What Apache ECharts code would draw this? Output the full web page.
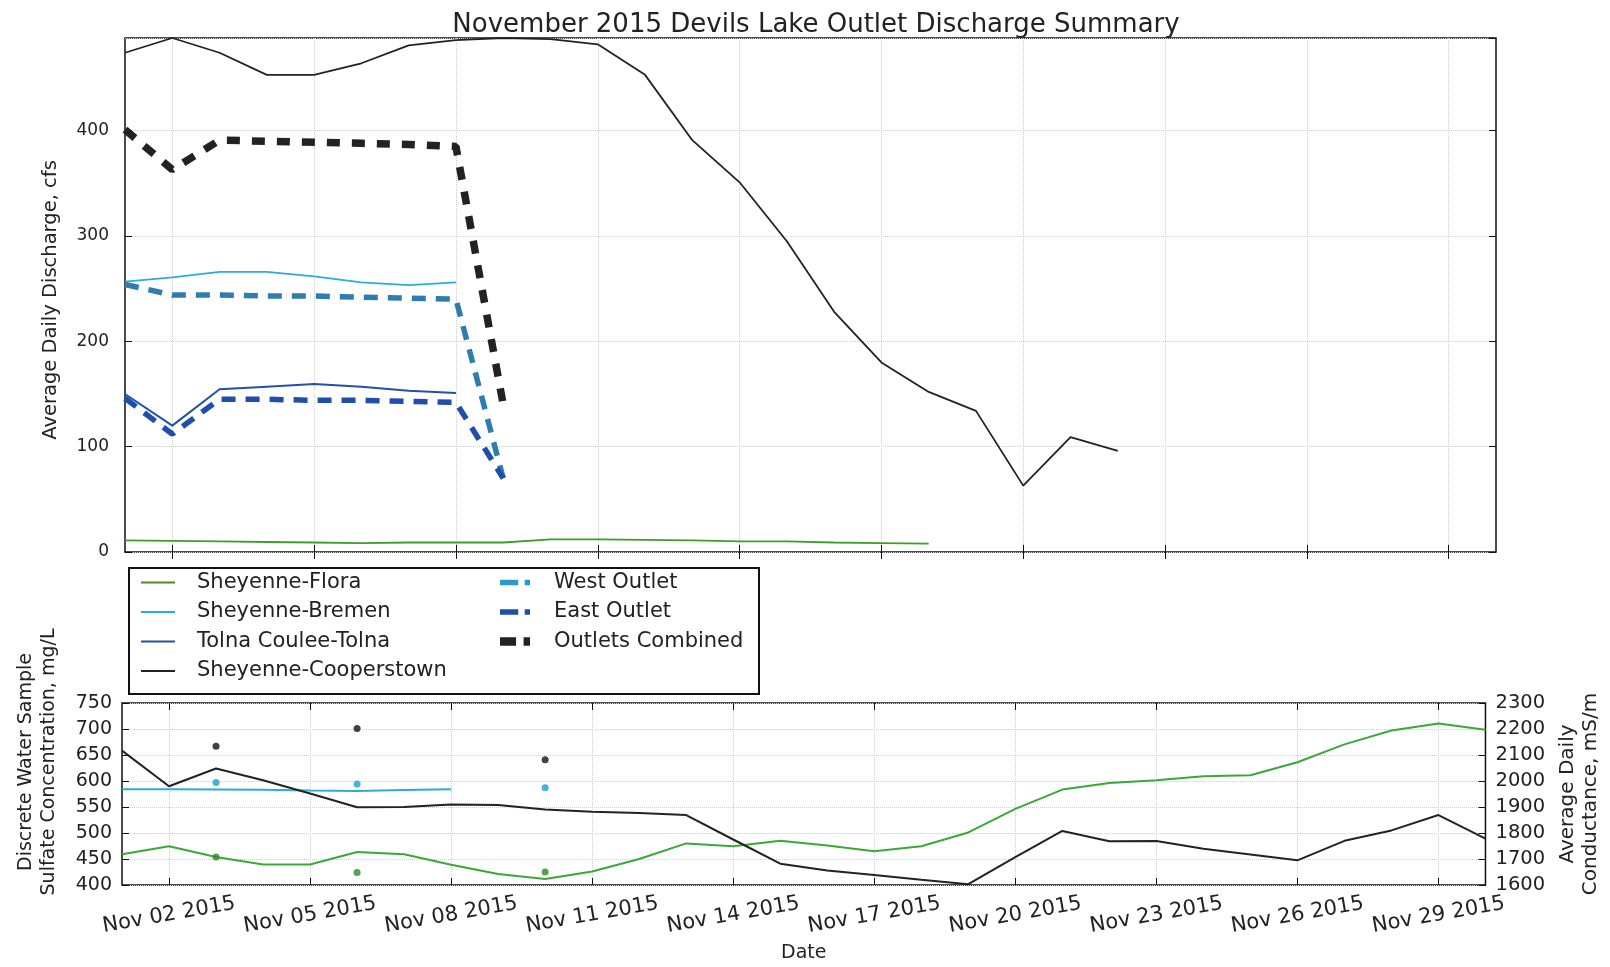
<!DOCTYPE html>
<html>
<head>
<meta charset="utf-8">
<script src="https://cdn.jsdelivr.net/npm/echarts@6/dist/echarts.min.js"></script>
<style>html,body{margin:0;padding:0;background:#fff;}#c{width:1610px;height:967px;}</style>
</head>
<body>
<div id="c"></div>
<script>
var dates = ['Nov 01 2015','Nov 02 2015','Nov 03 2015','Nov 04 2015','Nov 05 2015','Nov 06 2015','Nov 07 2015','Nov 08 2015','Nov 09 2015','Nov 10 2015',
  'Nov 11 2015','Nov 12 2015','Nov 13 2015','Nov 14 2015','Nov 15 2015','Nov 16 2015','Nov 17 2015','Nov 18 2015','Nov 19 2015','Nov 20 2015',
  'Nov 21 2015','Nov 22 2015','Nov 23 2015','Nov 24 2015','Nov 25 2015','Nov 26 2015','Nov 27 2015','Nov 28 2015','Nov 29 2015','Nov 30 2015'];
var tickLabels = ['Nov 02 2015','Nov 05 2015','Nov 08 2015','Nov 11 2015','Nov 14 2015','Nov 17 2015','Nov 20 2015','Nov 23 2015','Nov 26 2015','Nov 29 2015'];
var dischargeTicks = [0, 100, 200, 300, 400];

// Average daily discharge, cfs (top panel)
var floraQ = [11,10.5,10,9.5,9,8.5,9,9,9,12,12,11.5,11,10,10,9,8.5,8,null,null,null,null,null,null,null,null,null,null,null,null];
var bremenQ = [256.6,260.7,266,266,261.6,256,253.4,256,null,null,null,null,null,null,null,null,null,null,null,null,null,null,null,null,null,null,null,null,null,null];
var tolnaQ = [150,120,154.5,157,159.5,157,153,151,null,null,null,null,null,null,null,null,null,null,null,null,null,null,null,null,null,null,null,null,null,null];
var coopQ = [474,488,474,453,453,464,481,486,488,487,482,453,391,351,295,228,180,152,134,63,109,96,null,null,null,null,null,null,null,null];
var westQ = [254,244,244,243,243,242,241,240,70,null,null,null,null,null,null,null,null,null,null,null,null,null,null,null,null,null,null,null,null,null];
var eastQ = [146,112,145,145,144,144,143,142,70,null,null,null,null,null,null,null,null,null,null,null,null,null,null,null,null,null,null,null,null,null];
var combinedQ = [401,363,391,390,389,388,387,385,140,null,null,null,null,null,null,null,null,null,null,null,null,null,null,null,null,null,null,null,null,null];

// Average daily conductance, mS/m (bottom panel, right axis)
var floraC = [1718,1749,1708,1679,1679,1727,1718,1678,1642,1623,1652,1700,1760,1749,1770,1752,1730,1749,1802,1893,1967,1992,2003,2018,2022,2072,2141,2194,2221,2197];
var bremenC = [1968,1968,1967,1966,1963,1962,1965,1968,null,null,null,null,null,null,null,null,null,null,null,null,null,null,null,null,null,null,null,null,null,null];
var coopC = [2117,1980,2048,2003,1952,1899,1900,1910,1908,1890,1882,1877,1869,1775,1682,1656,1638,1620,1603,1707,1808,1768,1769,1739,1717,1695,1770,1810,1869,1778];

// Discrete sulfate samples, mg/L (bottom panel, left axis)
var sampleDates = ['Nov 03 2015','Nov 06 2015','Nov 10 2015'];
var coopSO4 = [667, 701, 641];
var bremenSO4 = [597, 594, 587];
var floraSO4 = [454, 424, 425];

function pairs(xs, ys){ return xs.map(function(x,i){ return [x, ys[i]]; }); }
function showTick(idx){ return tickLabels.indexOf(dates[idx]) >= 0; }

var FONT = 'DejaVu Sans';
var TXT = '#222';
var gridLine = {show:true, interval: showTick, lineStyle:{color:'#cfcfcf', type:'dotted', width:1}};
var ySplit = {show:true, lineStyle:{color:'#cfcfcf', type:'dotted', width:1}};
var SOLID_ICON = 'path://M0,0h34v2h-34z';
var DASH_ICON = 'path://M0,0h17v5h-17z M23,0h5v5h-5z';
var BIG_DASH_ICON = 'path://M0,0h15v8h-15z M22,0h6v8h-6z';

var chart = echarts.init(document.getElementById('c'));
chart.setOption({
  animation: false,
  backgroundColor: '#fff',
  textStyle: {fontFamily: FONT, color: TXT},
  title: {
    text: 'November 2015 Devils Lake Outlet Discharge Summary',
    left: 811, top: 7, textAlign: 'center',
    textStyle: {fontFamily: FONT, fontSize: 26, fontWeight: 'normal', color: TXT}
  },
  grid: [
    {left: 125, right: 114, top: 38, height: 514, show: true, borderColor: '#111', borderWidth: 1.5, backgroundColor: '#fff'},
    {left: 122, right: 120, top: 703, height: 182, show: true, borderColor: '#111', borderWidth: 1.5, backgroundColor: '#fff'}
  ],
  graphic: [{
    type: 'rect', z: 50, left: 128, top: 567,
    shape: {width: 630, height: 126},
    style: {fill: '#fff', stroke: '#111', lineWidth: 2}
  }],
  legend: [
    {
      z: 60, orient: 'vertical', left: 141, top: 572, padding: 0, itemGap: 8.5, itemWidth: 34, itemHeight: 14,
      data: [
        {name:'Sheyenne-Flora', icon: SOLID_ICON},
        {name:'Sheyenne-Bremen', icon: SOLID_ICON},
        {name:'Tolna Coulee-Tolna', icon: SOLID_ICON},
        {name:'Sheyenne-Cooperstown', icon: SOLID_ICON}
      ],
      textStyle: {fontFamily: FONT, fontSize: 21, color: TXT, lineHeight: 21, padding: [0,0,0,17]},
      selectedMode: false
    },
    {
      z: 60, orient: 'vertical', left: 500, top: 572, padding: 0, itemGap: 8.5, itemWidth: 30, itemHeight: 14,
      data: [
        {name:'West Outlet', icon: DASH_ICON},
        {name:'East Outlet', icon: DASH_ICON},
        {name:'Outlets Combined', icon: BIG_DASH_ICON}
      ],
      textStyle: {fontFamily: FONT, fontSize: 21, color: TXT, lineHeight: 21, padding: [0,0,0,19]},
      selectedMode: false
    }
  ],
  xAxis: [
    {type:'category', gridIndex:0, data: dates, boundaryGap:false, position:'bottom',
     axisLine:{show:false}, axisTick:{show:true, inside:true, length:7, interval: showTick, lineStyle:{color:'#111'}},
     axisLabel:{show:false}, splitLine: gridLine},
    {type:'category', gridIndex:1, data: dates, boundaryGap:false, position:'bottom',
     name:'Date', nameLocation:'middle', nameGap: 59,
     nameTextStyle:{fontFamily: FONT, fontSize: 19, color: TXT},
     axisLine:{show:false}, axisTick:{show:true, inside:true, length:7, interval: showTick, lineStyle:{color:'#111'}},
     axisLabel:{show:true, interval: showTick, rotate: 10, align:'center', verticalAlign:'middle', margin: 30,
       fontFamily: FONT, fontSize: 21, color: TXT},
     splitLine: gridLine},
    {type:'category', gridIndex:0, data: dates, boundaryGap:false, position:'top',
     axisLine:{show:false}, axisTick:{show:true, inside:true, length:7, interval: showTick, lineStyle:{color:'#111'}},
     axisLabel:{show:false}, splitLine:{show:false}},
    {type:'category', gridIndex:1, data: dates, boundaryGap:false, position:'top',
     axisLine:{show:false}, axisTick:{show:true, inside:true, length:7, interval: showTick, lineStyle:{color:'#111'}},
     axisLabel:{show:false}, splitLine:{show:false}}
  ],
  yAxis: [
    {type:'value', gridIndex:0, min:0, max:488, interval:100, position:'left',
     name:'Average Daily Discharge, cfs', nameLocation:'middle', nameRotate:90, nameGap: 64,
     nameTextStyle:{fontFamily: FONT, fontSize: 19.5, color: TXT, padding:[0,10,0,0]},
     axisLine:{show:false}, axisTick:{show:true, inside:true, length:7, lineStyle:{color:'#111'}},
     axisLabel:{fontFamily: FONT, fontSize: 17, color: TXT, margin: 16, showMaxLabel:false,
       formatter: function(v){ return dischargeTicks.indexOf(v) >= 0 ? String(v) : ''; }},
     splitLine: ySplit},
    {type:'value', gridIndex:1, min:400, max:750, interval:50, position:'left',
     name:'Discrete Water Sample\nSulfate Concentration, mg/L', nameLocation:'middle', nameRotate:90, nameGap: 61,
     nameTextStyle:{fontFamily: FONT, fontSize: 19, color: TXT, lineHeight: 23, padding:[0,0,0,64]},
     axisLine:{show:false}, axisTick:{show:true, inside:true, length:7, lineStyle:{color:'#111'}},
     axisLabel:{fontFamily: FONT, fontSize: 19, color: TXT, margin: 10},
     splitLine: ySplit},
    {type:'value', gridIndex:1, min:1600, max:2300, interval:100, position:'right',
     name:'Average Daily\nConductance, mS/m', nameLocation:'middle', nameRotate:90, nameGap: 70,
     nameTextStyle:{fontFamily: FONT, fontSize: 20, color: TXT, lineHeight: 23},
     axisLine:{show:false}, axisTick:{show:true, inside:true, length:7, lineStyle:{color:'#111'}},
     axisLabel:{fontFamily: FONT, fontSize: 19.5, color: TXT, margin: 10, formatter: function(v){ return String(v); }},
     splitLine:{show:false}},
    {type:'value', gridIndex:0, min:0, max:488, interval:100, position:'right',
     axisLine:{show:false}, axisTick:{show:true, inside:true, length:7, lineStyle:{color:'#111'}},
     axisLabel:{show:false}, splitLine:{show:false}}
  ],
  series: [
    {name:'Sheyenne-Flora', type:'line', xAxisIndex:0, yAxisIndex:0, data: floraQ, showSymbol:false, symbol:'none',
     lineStyle:{color:'#3e9e2c', width:1.8}, itemStyle:{color:'#4f8a22'}, z:3},
    {name:'Sheyenne-Bremen', type:'line', xAxisIndex:0, yAxisIndex:0, data: bremenQ, showSymbol:false, symbol:'none',
     lineStyle:{color:'#2eaadc', width:1.8}, itemStyle:{color:'#2eaadc'}, z:3},
    {name:'Tolna Coulee-Tolna', type:'line', xAxisIndex:0, yAxisIndex:0, data: tolnaQ, showSymbol:false, symbol:'none',
     lineStyle:{color:'#2350a8', width:2}, itemStyle:{color:'#2350a8'}, z:3},
    {name:'Sheyenne-Cooperstown', type:'line', xAxisIndex:0, yAxisIndex:0, data: coopQ, showSymbol:false, symbol:'none',
     lineStyle:{color:'#222', width:1.8}, itemStyle:{color:'#222'}, z:3},
    {name:'West Outlet', type:'line', xAxisIndex:0, yAxisIndex:0, data: westQ, showSymbol:false, symbol:'none',
     lineStyle:{color:'#2f7db0', width:5.5, type:[14,10]}, itemStyle:{color:'#2a9ccc'}, z:4},
    {name:'East Outlet', type:'line', xAxisIndex:0, yAxisIndex:0, data: eastQ, showSymbol:false, symbol:'none',
     lineStyle:{color:'#1f4fab', width:5.5, type:[14,10]}, itemStyle:{color:'#1f4fab'}, z:4},
    {name:'Outlets Combined', type:'line', xAxisIndex:0, yAxisIndex:0, data: combinedQ, showSymbol:false, symbol:'none',
     lineStyle:{color:'#222', width:7.5, type:[13,12]}, itemStyle:{color:'#222'}, z:4},

    {name:'Flora conductance', type:'line', xAxisIndex:1, yAxisIndex:2, data: floraC, showSymbol:false, symbol:'none',
     lineStyle:{color:'#3aa935', width:2}, z:3},
    {name:'Bremen conductance', type:'line', xAxisIndex:1, yAxisIndex:2, data: bremenC, showSymbol:false, symbol:'none',
     lineStyle:{color:'#2eaadc', width:2}, z:3},
    {name:'Cooperstown conductance', type:'line', xAxisIndex:1, yAxisIndex:2, data: coopC, showSymbol:false, symbol:'none',
     lineStyle:{color:'#222', width:2}, z:3},
    {name:'Cooperstown sulfate', type:'scatter', xAxisIndex:1, yAxisIndex:1, data: pairs(sampleDates, coopSO4),
     symbolSize:7, itemStyle:{color:'#111'}, z:5},
    {name:'Bremen sulfate', type:'scatter', xAxisIndex:1, yAxisIndex:1, data: pairs(sampleDates, bremenSO4),
     symbolSize:7, itemStyle:{color:'#1c9fd0'}, z:5},
    {name:'Flora sulfate', type:'scatter', xAxisIndex:1, yAxisIndex:1, data: pairs(sampleDates, floraSO4),
     symbolSize:7, itemStyle:{color:'#2a8a2a'}, z:5}
  ]
});
</script>
</body>
</html>
